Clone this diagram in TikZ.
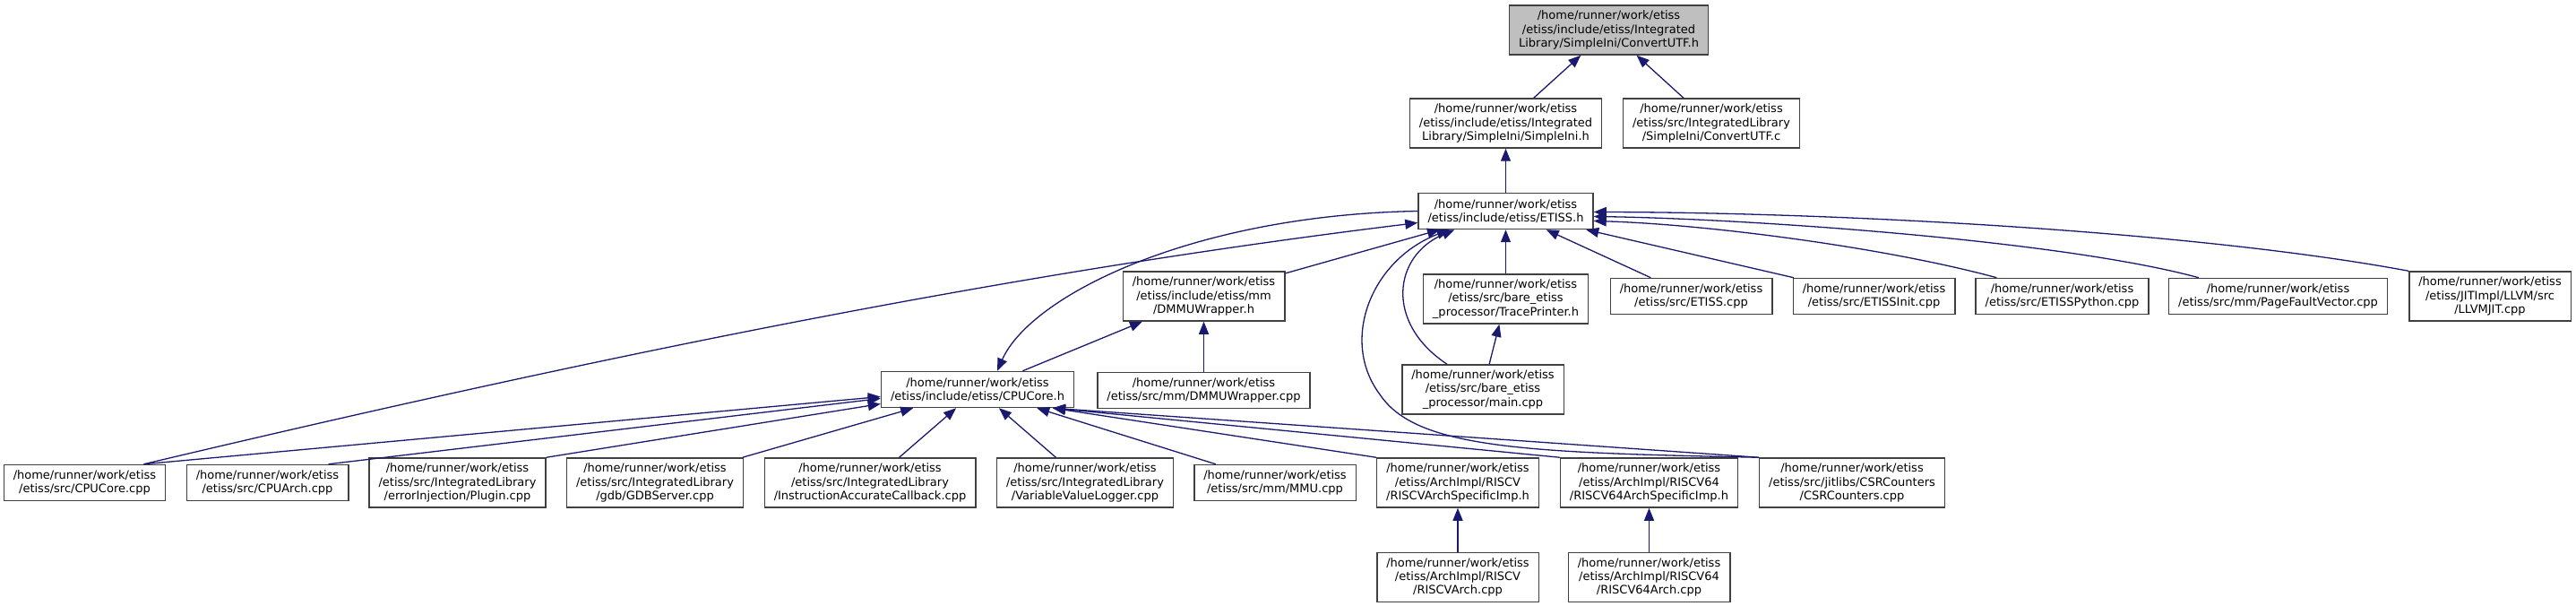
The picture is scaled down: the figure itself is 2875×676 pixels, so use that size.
\documentclass[tikz,border=0pt]{standalone}
\usepackage{fontspec}
\setmainfont{DejaVu Sans}
\usepackage{xcolor}
\usepackage{tikz}
\usetikzlibrary{arrows.meta, positioning}

\definecolor{edgeblue}{HTML}{191970}
\definecolor{boxline}{HTML}{404040}
\definecolor{rootgrey}{HTML}{BFBFBF}

\begin{document}
\begin{tikzpicture}[
    x=1pt, y=1pt,
    box/.style={rectangle, draw=boxline, line width=1.5pt, fill=white, align=center, inner xsep=10.5pt, inner ysep=4pt, minimum height=40pt, font=\fontsize{13}{15.3}\selectfont},
    tallbox/.style={box, minimum height=55pt},
    rootbox/.style={tallbox, fill=rootgrey},
    arrow/.style={edgeblue, line width=1.3pt, <-, >={Triangle[length=14pt,width=11pt]}}
  ]
    \useasboundingbox (0,0) rectangle (2875,-676);

    \node (convutf_h) [rootbox] at (1795.5,-33.5) {/home/runner/work/etiss\\/etiss/include/etiss/Integrated\\Library/SimpleIni/ConvertUTF.h};

    \node (simpleini_h) [tallbox] at (1680.5,-137.5) {/home/runner/work/etiss\\/etiss/include/etiss/Integrated\\Library/SimpleIni/SimpleIni.h};
    \node (convutf_c) [tallbox] at (1910,-137.5) {/home/runner/work/etiss\\/etiss/src/IntegratedLibrary\\/SimpleIni/ConvertUTF.c};

    \node (etiss_h) [box, below=49pt of simpleini_h] {/home/runner/work/etiss\\/etiss/include/etiss/ETISS.h};

    \node (dmmu_h) [tallbox] at (1343.5,-330.5) {/home/runner/work/etiss\\/etiss/include/etiss/mm\\/DMMUWrapper.h};
    \node (tracep_h) [tallbox, below=49pt of etiss_h] {/home/runner/work/etiss\\/etiss/src/bare\_etiss\\\_processor/TracePrinter.h};
    \node (etiss_cpp) [box] at (1887.5,-330.5) {/home/runner/work/etiss\\/etiss/src/ETISS.cpp};
    \node (etissinit_cpp) [box] at (2091.5,-330.5) {/home/runner/work/etiss\\/etiss/src/ETISSInit.cpp};
    \node (etisspy_cpp) [box] at (2301.5,-330.5) {/home/runner/work/etiss\\/etiss/src/ETISSPython.cpp};
    \node (pagefault_cpp) [box] at (2542.5,-330.5) {/home/runner/work/etiss\\/etiss/src/mm/PageFaultVector.cpp};
    \node (llvmjit_cpp) [tallbox] at (2779,-330.5) {/home/runner/work/etiss\\/etiss/JITImpl/LLVM/src\\/LLVMJIT.cpp};

    \node (cpucore_h) [box] at (1091,-434.5) {/home/runner/work/etiss\\/etiss/include/etiss/CPUCore.h};
    \node (dmmu_cpp) [box, below=56pt of dmmu_h] {/home/runner/work/etiss\\/etiss/src/mm/DMMUWrapper.cpp};
    \node (main_cpp) [tallbox] at (1655,-434.5) {/home/runner/work/etiss\\/etiss/src/bare\_etiss\\\_processor/main.cpp};

    \node (cpucore_cpp) [box] at (94.5,-538.5) {/home/runner/work/etiss\\/etiss/src/CPUCore.cpp};
    \node (cpuarch_cpp) [box] at (298.5,-538.5) {/home/runner/work/etiss\\/etiss/src/CPUArch.cpp};
    \node (plugin_cpp) [tallbox] at (510.5,-538.5) {/home/runner/work/etiss\\/etiss/src/IntegratedLibrary\\/errorInjection/Plugin.cpp};
    \node (gdb_cpp) [tallbox] at (731,-538.5) {/home/runner/work/etiss\\/etiss/src/IntegratedLibrary\\/gdb/GDBServer.cpp};
    \node (iac_cpp) [tallbox] at (971,-538.5) {/home/runner/work/etiss\\/etiss/src/IntegratedLibrary\\/InstructionAccurateCallback.cpp};
    \node (vvl_cpp) [tallbox] at (1211,-538.5) {/home/runner/work/etiss\\/etiss/src/IntegratedLibrary\\/VariableValueLogger.cpp};
    \node (mmu_cpp) [box] at (1423,-538.5) {/home/runner/work/etiss\\/etiss/src/mm/MMU.cpp};
    \node (riscvasi_h) [tallbox] at (1627,-538.5) {/home/runner/work/etiss\\/etiss/ArchImpl/RISCV\\/RISCVArchSpecificImp.h};
    \node (riscv64asi_h) [tallbox] at (1840.5,-538.5) {/home/runner/work/etiss\\/etiss/ArchImpl/RISCV64\\/RISCV64ArchSpecificImp.h};
    \node (csr_cpp) [tallbox] at (2067,-538.5) {/home/runner/work/etiss\\/etiss/src/jitlibs/CSRCounters\\/CSRCounters.cpp};

    \node (riscvarch_cpp) [tallbox, below=49pt of riscvasi_h] {/home/runner/work/etiss\\/etiss/ArchImpl/RISCV\\/RISCVArch.cpp};
    \node (riscv64arch_cpp) [tallbox, below=49pt of riscv64asi_h] {/home/runner/work/etiss\\/etiss/ArchImpl/RISCV64\\/RISCV64Arch.cpp};

    \draw [arrow] (convutf_h) -- (simpleini_h);
    \draw [arrow] (convutf_h) -- (convutf_c);
    \draw [arrow] (simpleini_h) -- (etiss_h);

    \draw [arrow] (etiss_h) -- (dmmu_h);
    \draw [arrow] (etiss_h) -- (tracep_h);
    \draw [arrow] (etiss_h) -- (etiss_cpp);
    \draw [arrow] (etiss_h) -- (etissinit_cpp);
    \draw [arrow] ([yshift=-11pt]etiss_h.east) .. controls (1900,-250) and (2100,-275) .. ([xshift=24pt]etisspy_cpp.north west);
    \draw [arrow] ([yshift=-6pt]etiss_h.east) .. controls (1950,-244) and (2300,-268) .. ([xshift=34pt]pagefault_cpp.north west);
    \draw [arrow] ([yshift=-1pt]etiss_h.east) .. controls (2050,-237) and (2450,-258) .. (llvmjit_cpp.north west);
    \draw [arrow] ([xshift=22pt]cpucore_h.north) .. controls (1150,-330) and (1330,-240) .. (etiss_h.west);
    \draw [arrow] ([xshift=-57pt]etiss_h.south) .. controls (1555,-285) and (1545,-360) .. ([xshift=-40pt]main_cpp.north);
    \draw [arrow] ([xshift=-63pt]etiss_h.south) .. controls (1530,-290) and (1495,-380) .. (1540,-440) .. controls (1580,-500) and (1700,-505) .. (csr_cpp.north west);
    \draw [arrow] ([yshift=-13pt]etiss_h.west) .. controls (1103,-307) and (640,-404) .. ([xshift=66pt]cpucore_cpp.north);

    \draw [arrow] (dmmu_h) -- (cpucore_h);
    \draw [arrow] (dmmu_h) -- (dmmu_cpp);
    \draw [arrow] (tracep_h) -- (main_cpp);

    \draw [arrow] ([yshift=-8pt]cpucore_h.west) -- ([xshift=66pt]cpucore_cpp.north);
    \draw [arrow] ([yshift=-10pt]cpucore_h.west) -- ([xshift=68pt]cpuarch_cpp.north);
    \draw [arrow] ([yshift=-16pt]cpucore_h.west) -- (plugin_cpp.north east);
    \draw [arrow] (cpucore_h) -- (gdb_cpp);
    \draw [arrow] (cpucore_h) -- (iac_cpp);
    \draw [arrow] (cpucore_h) -- (vvl_cpp);
    \draw [arrow] (cpucore_h) -- (mmu_cpp);
    \draw [arrow] ([xshift=84pt]cpucore_h.south) -- (riscvasi_h.north west);
    \draw [arrow] ([xshift=84pt]cpucore_h.south) -- (riscv64asi_h.north west);
    \draw [arrow] ([xshift=84pt]cpucore_h.south) -- (csr_cpp.north west);

    \draw [arrow] (riscvasi_h) -- (riscvarch_cpp);
    \draw [arrow] (riscv64asi_h) -- (riscv64arch_cpp);

  \end{tikzpicture}
\end{document}
